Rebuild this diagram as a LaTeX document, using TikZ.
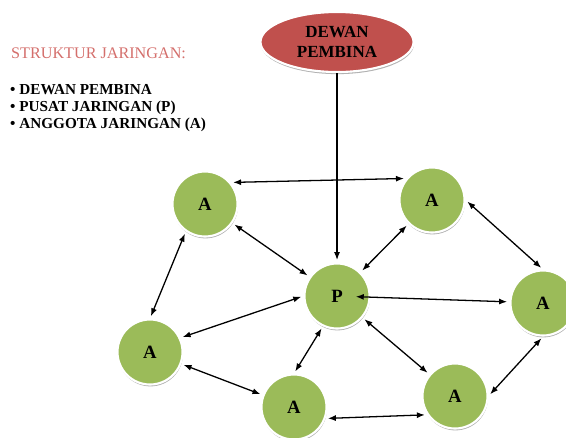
\documentclass[tikz,border=0pt]{standalone}
\usepackage{fontspec}
\setmainfont{Liberation Serif}
\usepackage{xcolor}
\usetikzlibrary{arrows.meta,shapes.geometric,shadows}
\definecolor{OliveGreen}{HTML}{9BBB59}
\definecolor{BrickRed}{HTML}{C0504D}
\definecolor{TitleRose}{HTML}{D46F6C}

\begin{document}
\begin{tikzpicture}[
  x=0.03cm, y=-0.03cm,
  member/.style={circle, fill=OliveGreen, draw=white, line width=1.8pt,
               minimum size=1.95cm, inner sep=0pt, font=\fontsize{16}{16}\selectfont\bfseries,
               drop shadow={shadow xshift=0.4pt, shadow yshift=-1.6pt, opacity=0.3, fill=black}},
  board/.style={ellipse, fill=BrickRed, draw=white, line width=1.8pt,
               minimum width=4.59cm, minimum height=1.8cm, align=center,
               font=\fontsize{14.5}{16.5}\selectfont\bfseries,
               drop shadow={shadow xshift=0.4pt, shadow yshift=-1.8pt, opacity=0.3, fill=black}},
  legend/.style={anchor=base west, inner sep=0pt, font=\fontsize{13}{14}\selectfont\bfseries},
  link/.style={{Latex[length=2.4mm,width=1.8mm]}-{Latex[length=2.4mm,width=1.8mm]}, line width=1.1pt, shorten <=2pt, shorten >=2pt},
  arrow/.style={-{Latex[length=2.4mm,width=1.8mm]}, line width=1.1pt, shorten >=2pt}
]
\useasboundingbox (0,0) rectangle (566,437);
% legend
\node[legend, font=\fontsize{13.8}{14}\selectfont, text=TitleRose] (title) at (11,58) {STRUKTUR JARINGAN:};
\node[legend] (item1) at (10,94) {\textbullet\ DEWAN PEMBINA};
\node[legend] (item2) at (10,111) {\textbullet\ PUSAT JARINGAN (P)};
\node[legend] (item3) at (10,128) {\textbullet\ ANGGOTA JARINGAN (A)};
% nodes
\node[board] (dewan) at (337,42) {DEWAN\\PEMBINA};
\node[member] (p) at (337,296) {P};
\node[member] (atl) at (205,204) {A};
\node[member] (atr) at (432,200) {A};
\node[member] (ar) at (543,303) {A};
\node[member] (al) at (150,352) {A};
\node[member] (abm) at (294,407) {A};
\node[member] (abr) at (455,396) {A};
% connectors
\draw[arrow] (dewan) -- (p);
\draw[link] (atl.40) -- (atr.140);
\draw[link] (atl) -- (p);
\draw[link] (atr) -- (p);
\draw[link] (atr.east) -- (ar.north);
\draw[link, shorten >=16pt] (ar) -- (p.center);
\draw[link] (atl.-125) -- (al.north);
\draw[link] (p.west) -- (al.25);
\draw[link] (p.-115) -- (abm.north);
\draw[link] (p) -- (abr);
\draw[link] (al) -- (abm);
\draw[link] (abm.-20) -- (abr.-146);
\draw[link] (abr.east) -- (ar.south);
\end{tikzpicture}
\end{document}
